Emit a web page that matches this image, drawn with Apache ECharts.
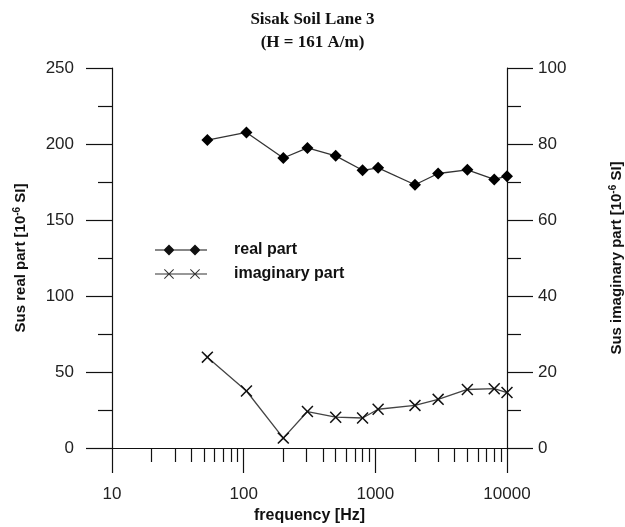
<!DOCTYPE html>
<html>
<head>
<meta charset="utf-8">
<script src="https://cdn.jsdelivr.net/npm/echarts@6/dist/echarts.min.js"></script>
<style>
html,body{margin:0;padding:0;background:#fff;}
#chart{width:625px;height:527px;}
</style>
</head>
<body>
<div id="chart"></div>
<script>
// ---- data ----
const frequencies = [53, 105, 200, 305, 500, 800, 1050, 2000, 3000, 5000, 8000, 10000];
const realPart = [202.6, 207.6, 190.8, 197.4, 192.2, 182.7, 184.3, 173.2, 180.6, 183.0, 176.7, 178.8];
const imagPart = [23.9, 15.0, 2.6, 9.6, 8.1, 7.9, 10.2, 11.2, 12.8, 15.4, 15.6, 14.6];
const minorTickFreqs = [20, 30, 40, 50, 60, 70, 80, 90, 200, 300, 400, 500, 600, 700, 800, 900, 2000, 3000, 4000, 5000, 6000, 7000, 8000, 9000];
const seriesNames = ['real part', 'imaginary part'];

const xIcon = 'path://M0 0.9 L0.9 0 L5 4.1 L9.1 0 L10 0.9 L5.9 5 L10 9.1 L9.1 10 L5 5.9 L0.9 10 L0 9.1 L4.1 5 Z';
const legendReal = 'path://M0 5.5 L52 5.5 L52 6.5 L0 6.5 Z M8.5 6 L14 0.5 L19.5 6 L14 11.5 Z M34.5 6 L40 0.5 L45.5 6 L40 11.5 Z';
const legendImag = 'path://M0 5.5 L52 5.5 L52 6.5 L0 6.5 Z ' +
  'M9 1.7 L9.7 1 L14 5.3 L18.3 1 L19 1.7 L14.7 6 L19 10.3 L18.3 11 L14 6.7 L9.7 11 L9 10.3 L13.3 6 Z ' +
  'M35 1.7 L35.7 1 L40 5.3 L44.3 1 L45 1.7 L40.7 6 L45 10.3 L44.3 11 L40 6.7 L35.7 11 L35 10.3 L39.3 6 Z';

const sans = "'Liberation Sans', Arial, sans-serif";
const axisColor = '#111';
const labelColor = '#222';

const chart = echarts.init(document.getElementById('chart'), null, {renderer: 'canvas'});
chart.setOption({
  animation: false,
  backgroundColor: '#fff',
  title: {
    text: 'Sisak Soil Lane 3\n(H = 161 A/m)',
    left: 'center',
    top: 3,
    textStyle: {fontFamily: "'Liberation Serif', 'Times New Roman', serif", fontWeight: 'bold', fontSize: 17, lineHeight: 23, color: '#111'}
  },
  grid: {left: 112, right: 118, top: 68, bottom: 79, containLabel: false, outerBoundsMode: 'none'},
  legend: {
    orient: 'vertical',
    left: 150,
    top: 237,
    itemWidth: 52,
    itemHeight: 11,
    itemGap: 8,
    textStyle: {fontFamily: sans, fontSize: 16, fontWeight: 'bold', color: '#111', padding: [0, 0, 0, 22]},
    data: [
      {name: seriesNames[0], icon: legendReal, itemStyle: {color: '#111'}},
      {name: seriesNames[1], icon: legendImag, itemStyle: {color: '#333'}}
    ]
  },
  xAxis: [
    {
      type: 'log', logBase: 10, min: 10, max: 10000,
      gridIndex: 0,
      axisLine: {show: true, lineStyle: {color: axisColor, width: 1.2}},
      axisTick: {show: true, inside: false, length: 25, lineStyle: {color: axisColor, width: 1.2}},
      minorTick: {show: false},
      splitLine: {show: false},
      axisLabel: {margin: 38, fontSize: 17, fontFamily: sans, color: labelColor, formatter: v => String(v)},
      name: 'frequency [Hz]',
      nameLocation: 'middle',
      nameGap: 60,
      nameTextStyle: {fontFamily: sans, fontSize: 16, fontWeight: 'bold', color: '#111'}
    },
    {
      type: 'log', logBase: 10, min: 10, max: 10000,
      gridIndex: 0,
      position: 'bottom',
      axisLine: {show: false},
      axisTick: {show: true, inside: false, length: 14, customValues: minorTickFreqs, lineStyle: {color: axisColor, width: 1.2}},
      axisLabel: {show: false},
      splitLine: {show: false}
    }
  ],
  yAxis: [
    {
      type: 'value', min: 0, max: 250, interval: 50,
      position: 'left',
      axisLine: {show: true, lineStyle: {color: axisColor, width: 1.2}},
      axisTick: {show: true, inside: false, length: 26, lineStyle: {color: axisColor, width: 1.2}},
      minorTick: {show: true, splitNumber: 2, length: 14, lineStyle: {color: axisColor, width: 1.2}},
      splitLine: {show: false},
      axisLabel: {margin: 38, fontSize: 17, fontFamily: sans, color: labelColor},
      name: 'Sus real part [10{sup|-6} SI]',
      nameLocation: 'middle',
      nameRotate: 90,
      nameGap: 83,
      nameTextStyle: {fontFamily: sans, fontSize: 15, fontWeight: 'bold', color: '#111',
        rich: {sup: {fontFamily: sans, fontSize: 10, fontWeight: 'bold', color: '#111', verticalAlign: 'top', padding: [0, 0, 7, 0]}}}
    },
    {
      type: 'value', min: 0, max: 100, interval: 20,
      position: 'right',
      axisLine: {show: true, lineStyle: {color: axisColor, width: 1.2}},
      axisTick: {show: true, inside: false, length: 26, lineStyle: {color: axisColor, width: 1.2}},
      minorTick: {show: true, splitNumber: 2, length: 14, lineStyle: {color: axisColor, width: 1.2}},
      splitLine: {show: false},
      axisLabel: {margin: 31, fontSize: 17, fontFamily: sans, color: labelColor},
      name: 'Sus imaginary part [10{sup|-6} SI]',
      nameLocation: 'middle',
      nameRotate: 90,
      nameGap: 101,
      nameTextStyle: {fontFamily: sans, fontSize: 15, fontWeight: 'bold', color: '#111',
        rich: {sup: {fontFamily: sans, fontSize: 10, fontWeight: 'bold', color: '#111', verticalAlign: 'top', padding: [0, 0, 7, 0]}}}
    }
  ],
  series: [
    {
      name: seriesNames[0],
      type: 'line',
      xAxisIndex: 0, yAxisIndex: 0,
      data: frequencies.map((f, i) => [f, realPart[i]]),
      symbol: 'diamond',
      symbolSize: 12,
      showAllSymbol: true,
      clip: false,
      lineStyle: {color: '#333', width: 1.3},
      itemStyle: {color: '#000'}
    },
    {
      name: seriesNames[1],
      type: 'line',
      xAxisIndex: 0, yAxisIndex: 1,
      data: frequencies.map((f, i) => [f, imagPart[i]]),
      symbol: xIcon,
      symbolSize: 12,
      showAllSymbol: true,
      clip: false,
      lineStyle: {color: '#444', width: 1.3},
      itemStyle: {color: '#111'}
    }
  ]
});
</script>
</body>
</html>
